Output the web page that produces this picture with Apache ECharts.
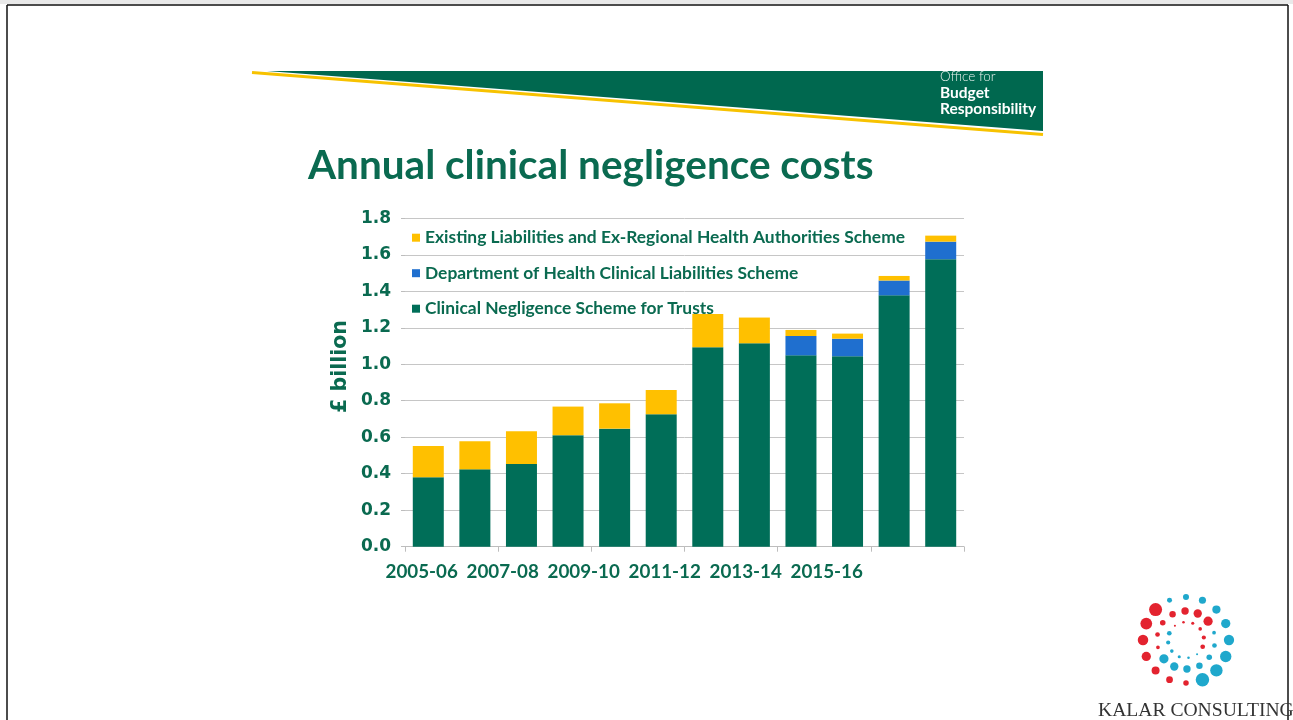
<!DOCTYPE html>
<html>
<head>
<meta charset="utf-8">
<script src="https://cdn.jsdelivr.net/npm/echarts@6/dist/echarts.min.js"></script>
<style>
  html, body { margin: 0; padding: 0; background: #ffffff; }
  #chart { width: 1293px; height: 720px; }
</style>
</head>
<body>
<div id="chart"></div>
<script>
// Financial years on the category axis
const years = ['2005-06', '2006-07', '2007-08', '2008-09', '2009-10', '2010-11',
               '2011-12', '2012-13', '2013-14', '2014-15', '2015-16', '2016-17'];
// Labels printed under the axis (every second year)
const tickLabels = ['2005-06', '2007-08', '2009-10', '2011-12', '2013-14', '2015-16'];

// Annual costs, £ billion
const cnst  = [0.380, 0.424, 0.453, 0.611, 0.647, 0.726, 1.093, 1.115, 1.049, 1.044, 1.378, 1.576];
const dhcls = [0, 0, 0, 0, 0, 0, 0, 0, 0.106, 0.096, 0.081, 0.096];
const elsra = [0.172, 0.154, 0.180, 0.157, 0.139, 0.133, 0.183, 0.141, 0.033, 0.028, 0.025, 0.033];

const seriesNames = [
  'Existing Liabilities and Ex-Regional Health Authorities Scheme',
  'Department of Health Clinical Liabilities Scheme',
  'Clinical Negligence Scheme for Trusts'
];

const GREEN = '#006e58';
const TEXT_GREEN = '#0a6a50';
const YELLOW = '#ffc000';
const BLUE = '#1f6fcf';

// Dotted ring emblem in the lower right corner
function emblem(cx, cy) {
  const rings = [
    { radius: 43, n: 16, rMin: 2.2, rMax: 6.8, redFrom: 70,  redTo: 235 },
    { radius: 29, n: 14, rMin: 1.6, rMax: 4.8, redFrom: 150, redTo: 330 },
    { radius: 18, n: 12, rMin: 1.0, rMax: 2.6, redFrom: 230, redTo: 410 }
  ];
  const out = [];
  rings.forEach(function (ring, k) {
    for (let i = 0; i < ring.n; i++) {
      const deg = (i * 360 / ring.n) + k * 11;
      const rel = ((deg - ring.redFrom) % 360 + 360) % 360;
      const redSpan = ring.redTo - ring.redFrom;
      const isRed = rel <= redSpan;
      const t = isRed ? rel / redSpan : (rel - redSpan) / (360 - redSpan);
      const r = ring.rMin + (ring.rMax - ring.rMin) * t;
      const a = deg * Math.PI / 180;
      out.push({
        type: 'circle',
        shape: { cx: cx + ring.radius * Math.cos(a), cy: cy + ring.radius * Math.sin(a), r: r },
        style: { fill: isRed ? '#e3232f' : '#1fa8cc' },
        silent: true
      });
    }
  });
  return out;
}

const chart = echarts.init(document.getElementById('chart'), null, { renderer: 'canvas' });

const option = {
  backgroundColor: '#ffffff',
  animation: false,
  title: {
    text: 'Annual clinical negligence costs',
    left: 303,
    top: 140,
    textStyle: { fontFamily: 'Lato', fontWeight: 'bold', fontSize: 40.5, color: TEXT_GREEN }
  },
  legend: {
    data: seriesNames,
    orient: 'vertical',
    left: 407,
    top: 223.7,
    itemWidth: 8,
    itemHeight: 8,
    itemGap: 17.5,
    icon: 'rect',
    textStyle: { fontFamily: 'Lato', fontWeight: 'bold', fontSize: 17.4, color: TEXT_GREEN, lineHeight: 18 }
  },
  grid: [
    { left: 405, top: 218.3, width: 559, height: 328.4 },
    { left: 381.2, top: 218.3, width: 486, height: 328.4 }
  ],
  xAxis: [
    {
      type: 'category', gridIndex: 0, data: years,
      axisLine: { lineStyle: { color: '#bdbdbd', width: 1 } },
      axisTick: { show: true, length: 5, lineStyle: { color: '#bdbdbd' } },
      axisLabel: { show: false }
    },
    {
      type: 'category', gridIndex: 1, data: tickLabels,
      axisLine: { show: false },
      axisTick: { show: false },
      axisLabel: { interval: 0, margin: 16, fontFamily: 'Lato', fontWeight: 'bold', fontSize: 18.8, color: TEXT_GREEN }
    }
  ],
  yAxis: [
    {
      type: 'value', gridIndex: 0, min: 0, max: 1.8, interval: 0.2,
      name: '£ billion',
      nameLocation: 'middle',
      nameRotate: 90,
      nameGap: 54,
      nameTextStyle: { fontFamily: 'DejaVu Sans', fontWeight: 'bold', fontSize: 20.5, color: TEXT_GREEN, padding: [0, 0, 0, 32] },
      axisLine: { show: false },
      axisTick: { show: true, length: 4, lineStyle: { color: '#bdbdbd' } },
      splitLine: { lineStyle: { color: '#c6c6c6', width: 1 } },
      axisLabel: {
        margin: 14,
        fontFamily: 'DejaVu Sans', fontWeight: 'bold', fontSize: 17, color: TEXT_GREEN,
        formatter: function (v) { return v.toFixed(1); }
      }
    },
    { type: 'value', gridIndex: 1, show: false, min: 0, max: 1.8 }
  ],
  series: [
    { name: seriesNames[2], type: 'bar', stack: 'total', data: cnst,  barWidth: 31, itemStyle: { color: GREEN } },
    { name: seriesNames[1], type: 'bar', stack: 'total', data: dhcls, barWidth: 31, itemStyle: { color: BLUE } },
    { name: seriesNames[0], type: 'bar', stack: 'total', data: elsra, barWidth: 31, itemStyle: { color: YELLOW } }
  ],
  graphic: [
    // page frame
    { type: 'rect', shape: { x: 0, y: 0, width: 1293, height: 4 }, style: { fill: '#e9e9e9' }, silent: true },
    { type: 'line', shape: { x1: 7, y1: 5, x2: 1288, y2: 5 }, style: { stroke: '#111', lineWidth: 1.5 }, silent: true },
    { type: 'line', shape: { x1: 7, y1: 5, x2: 7, y2: 720 }, style: { stroke: '#111', lineWidth: 1.5 }, silent: true },
    { type: 'line', shape: { x1: 1288, y1: 5, x2: 1288, y2: 720 }, style: { stroke: '#111', lineWidth: 1.5 }, silent: true },
    // header banner
    { type: 'polygon', shape: { points: [[267, 71], [1043, 71], [1043, 131]] }, style: { fill: '#00684f' }, silent: true },
    { type: 'line', shape: { x1: 252, y1: 72.5, x2: 1043, y2: 134.5 }, style: { stroke: '#f7c200', lineWidth: 3 }, silent: true },
    { type: 'text', left: 940, top: 70, style: { text: 'Office for', fill: '#e8f2ee', font: '300 13.5px Lato' }, silent: true },
    { type: 'text', left: 940, top: 84.5, style: { text: 'Budget', fill: '#ffffff', font: 'bold 15.5px Lato' }, silent: true },
    { type: 'text', left: 940, top: 100.5, style: { text: 'Responsibility', fill: '#ffffff', font: 'bold 15.5px Lato' }, silent: true },
    // emblem and name
    { type: 'group', children: emblem(1186, 640), silent: true },
    { type: 'text', left: 1098, top: 701, style: { text: 'KALAR CONSULTING', fill: '#333333', font: '19.6px "Liberation Serif"' }, silent: true }
  ]
};

chart.setOption(option);
</script>
</body>
</html>
